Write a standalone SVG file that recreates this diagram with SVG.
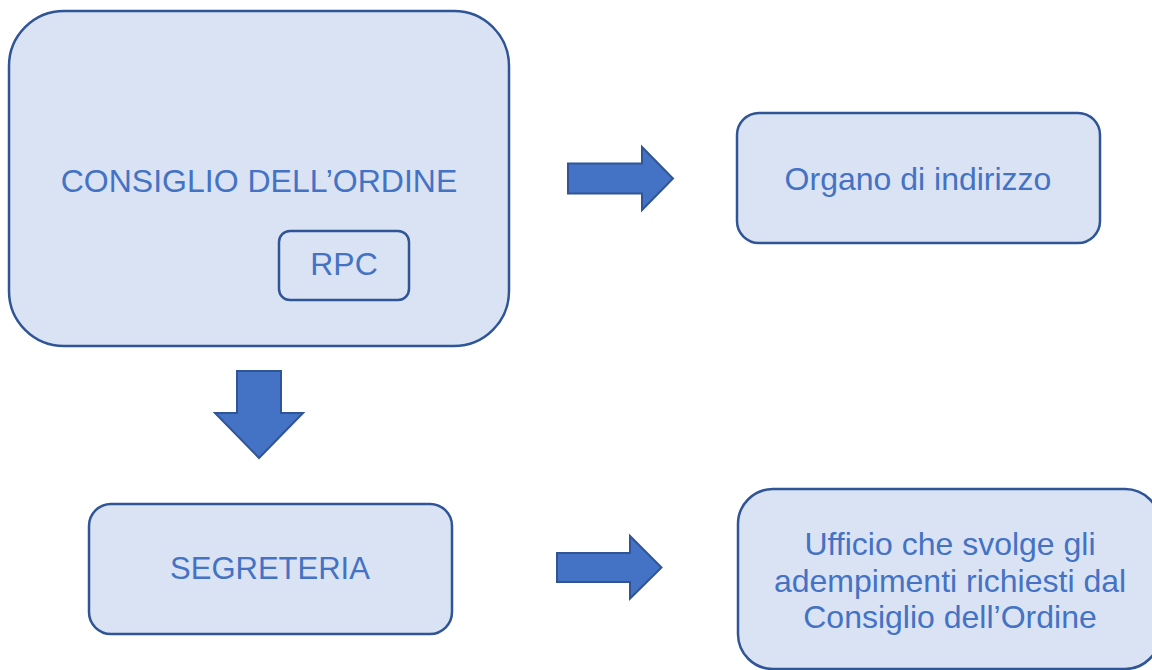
<svg xmlns="http://www.w3.org/2000/svg" width="1152" height="670" viewBox="0 0 1152 670">
<style>
.box{fill:#DAE3F3;stroke:#2F5597;stroke-width:2.5}
.lbl{font-family:"Liberation Sans",Arial,sans-serif;font-size:32px;fill:#4472C4;text-anchor:middle}
.arr{fill:#4472C4;stroke:#2F5597;stroke-width:2;stroke-linejoin:miter}
</style>
<rect width="1152" height="670" fill="#FFFFFF"/>
<g id="consiglio">
<rect class="box" x="9" y="11" width="500" height="335" rx="55" ry="55"/>
<text class="lbl" x="259" y="192">CONSIGLIO DELL’ORDINE</text>
</g>
<g id="rpc">
<rect class="box" x="279" y="231" width="130" height="69" rx="11" ry="11"/>
<text class="lbl" x="344" y="275">RPC</text>
</g>
<g id="organo">
<rect class="box" x="737" y="113" width="363" height="130" rx="22" ry="22"/>
<text class="lbl" x="918" y="190">Organo di indirizzo</text>
</g>
<g id="segreteria">
<rect class="box" x="89" y="504" width="363" height="130" rx="22" ry="22"/>
<text class="lbl" x="270" y="579" style="font-size:31px">SEGRETERIA</text>
</g>
<g id="ufficio">
<rect class="box" x="738" y="489" width="422" height="180" rx="35" ry="35"/>
<text class="lbl" x="950" y="555">Ufficio che svolge gli</text>
<text class="lbl" x="950" y="592">adempimenti richiesti dal</text>
<text class="lbl" x="950" y="628">Consiglio dell’Ordine</text>
</g>
<g id="connectors">
<polygon class="arr" points="568,163.5 642,163.5 642,147 673,178.5 642,210 642,193.5 568,193.5"/>
<polygon class="arr" points="237,371 281,371 281,413 303,413 259,458 215,413 237,413"/>
<polygon class="arr" points="557,553 630,553 630,536 661.5,567.5 630,598.5 630,582 557,582"/>
</g>
</svg>
